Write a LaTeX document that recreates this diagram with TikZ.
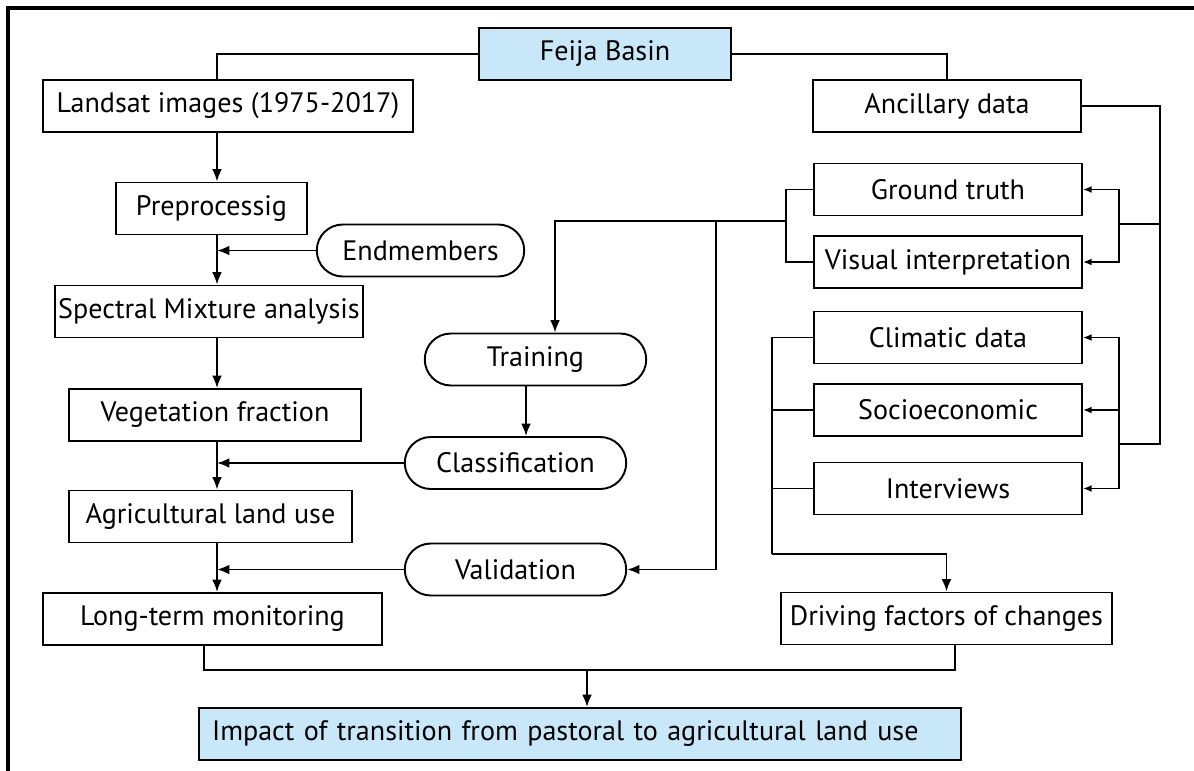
\documentclass[tikz,border=0pt]{standalone}
\usepackage{fontspec}
\setmainfont{PT Sans}
\usetikzlibrary{arrows.meta,shapes.misc}

\definecolor{basinblue}{RGB}{200,231,248}

\begin{document}
\begin{tikzpicture}[x=0.02cm,y=-0.02cm,font=\fontsize{16}{19}\selectfont,
  line width=1.1pt,
  box/.style={draw,rectangle,minimum height=1.04cm,inner sep=1pt},
  keybox/.style={box,fill=basinblue},
  oval/.style={draw,rounded rectangle,minimum height=1.04cm,minimum width=4.5cm,inner sep=1pt},
  arr/.style={-{Latex[length=7pt,width=5.5pt]}},
  thinarr/.style={-{Latex[length=5pt,width=4pt]}}]
\useasboundingbox (0,0) rectangle (1194,771);
\draw[line width=1.8pt] (1194,8) -- (8,8) -- (8,771);
\coordinate (spine) at (217,0);
% left column
\node[keybox,minimum width=5.04cm] (basin) at (605,54) {Feija Basin};
\node[box,minimum width=7.4cm] (landsat) at (228,106) {Landsat images (1975-2017)};
\node[box,minimum width=3.82cm] (prep) at (211.5,208.5) {Preprocessig};
\node[oval,minimum width=4.22cm] (endm) at (420.5,250.5) {Endmembers};
\node[box,minimum width=6.16cm] (sma) at (209,311.5) {Spectral Mixture analysis};
\node[box,minimum width=5.84cm] (vegfrac) at (215,415) {Vegetation fraction};
\node[box,minimum width=5.66cm] (agri) at (210.5,516.5) {Agricultural land use};
\node[box,minimum width=6.78cm] (monitor) at (212.5,619) {Long-term monitoring};
% middle column
\node[oval] (train) at (535.5,359.5) {Training};
\node[oval] (classif) at (515.5,463) {Classification};
\node[oval] (valid) at (515.5,569.5) {Validation};
% right column
\node[box,minimum width=5.36cm] (ancil) at (947,106) {Ancillary data};
\foreach \n/\y/\lab in {ground/189.5/Ground truth,visual/262/Visual interpretation,
  clim/337.5/Climatic data,socio/410/Socioeconomic,interv/488.5/Interviews}
  \node[box,minimum width=5.36cm] (\n) at (948,\y) {\lab};
\node[box,minimum width=6.62cm] (drivers) at (946.5,618.5) {Driving factors of changes};
\node[keybox,minimum width=15.24cm,text width=14.72cm,inner xsep=0.26cm,align=left]
  (impact) at (580,734) {Impact of transition from pastoral to agricultural land use};
% junctions
\coordinate (gtbus) at (786,221);
\coordinate (valbus) at (716,221);
\coordinate (rbus) at (1160,444);
\coordinate (gtfork) at (1119,224);
\coordinate (dfork) at (1119,444);
\coordinate (dbus) at (772,554);
\coordinate (botbus) at (587,670);
% basin to both branches
\draw (basin.west) -| (landsat.north -| spine);
\draw (basin.east) -| (ancil.north);
% main chain
\draw[arr] (landsat.south -| spine) -- (prep.north -| spine);
\draw[arr] (prep.south -| spine) -- (sma.north -| spine);
\draw[arr] (sma.south -| spine) -- (vegfrac.north -| spine);
\draw[arr] (vegfrac.south -| spine) -- (agri.north -| spine);
\draw[arr] (agri.south -| spine) -- (monitor.north -| spine);
\foreach \n in {endm,classif,valid}{ \draw[arr] (\n.west) -- (\n.west -| spine); }
% reference data
\draw (ground.west) -| (gtbus) |- (visual.west);
\draw (gtbus) -- (valbus);
\draw[arr] (valbus) -| ([xshift=0.39cm]train.north);
\draw[arr] (valbus) |- (valid.east);
\draw[arr] ([xshift=-0.19cm]train.south) -- ([xshift=-0.19cm]train.south |- classif.north);
% ancillary feeds
\draw (ancil.east) -| (rbus) -- (dfork);
\draw (gtfork -| rbus) -- (gtfork);
\foreach \n in {ground,visual}{ \draw[thinarr] (gtfork) |- (\n.east); }
\foreach \n in {clim,socio,interv}{ \draw[thinarr] (dfork) |- (\n.east); }
% driving factors
\foreach \n in {clim,socio,interv}{ \draw (\n.west) -| (dbus); }
\draw[arr] (dbus) -| (drivers.north);
% outcome
\draw ([xshift=-0.17cm]monitor.south) |- (botbus) -| ([xshift=0.17cm]drivers.south);
\draw[arr] (botbus) -- (botbus |- impact.north);
\end{tikzpicture}
\end{document}
